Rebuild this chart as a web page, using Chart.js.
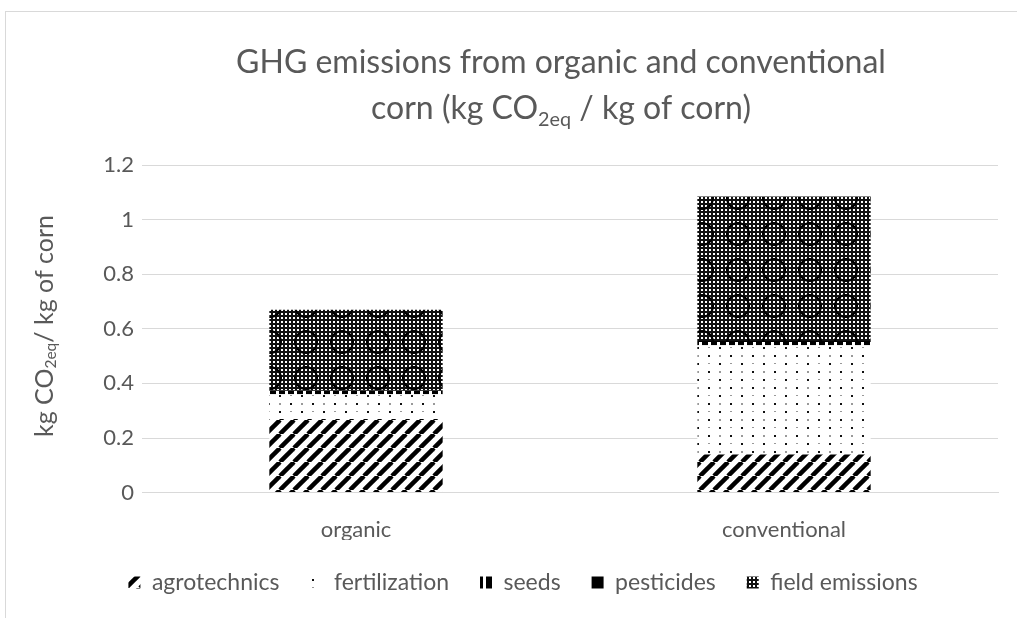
<!DOCTYPE html>
<html>
<head>
<meta charset="utf-8">
<script src="https://cdn.jsdelivr.net/npm/chart.js@4.4.1/dist/chart.umd.min.js"></script>
<style>
  body { margin: 0; background: #fff; }
  #wrap { width: 1017px; height: 618px; }
</style>
</head>
<body>
<div id="wrap"><canvas id="ghgChart" width="1017" height="618"></canvas></div>
<script>
// data
const categories = ['organic', 'conventional'];
const seriesNames = ['agrotechnics', 'fertilization', 'seeds', 'pesticides', 'field emissions'];
const agrotechnics = [0.27, 0.14];
const fertilization = [0.09, 0.40];
const seeds = [0.012, 0.012];
const pesticides = [0.003, 0.003];
const fieldEmissions = [0.295, 0.53];
const yTicks = [0, 0.2, 0.4, 0.6, 0.8, 1, 1.2];

const GREY = '#595959';
const FONT = 'Lato, "Open Sans", sans-serif';

const canvasEl = document.getElementById('ghgChart');
const ctx = canvasEl.getContext('2d');

// === PATTERNS ===
function makePattern(w, h, draw) {
  const c = document.createElement('canvas');
  c.width = w; c.height = h;
  const g = c.getContext('2d');
  g.fillStyle = '#fff';
  g.fillRect(0, 0, w, h);
  draw(g, w, h);
  return ctx.createPattern(c, 'repeat');
}

const patAgro = makePattern(14, 14, (g, w, h) => {
  g.strokeStyle = '#000';
  g.lineWidth = 4.5;
  for (let k = -1; k <= 1; k++) {
    g.beginPath();
    g.moveTo(k * w, h);
    g.lineTo(k * w + w, 0);
    g.stroke();
  }
});

const patFert = makePattern(22, 16, (g) => {
  g.fillStyle = '#111';
  g.fillRect(4, 3, 2, 2);
  g.fillRect(15, 11, 2, 2);
  g.fillStyle = '#999';
  g.fillRect(15, 3, 2, 2);
  g.fillRect(4, 11, 2, 1);
});

const patSeeds = makePattern(9, 1, (g) => {
  g.fillStyle = '#000';
  g.fillRect(0, 0, 6, 1);
});

const patField = makePattern(36, 36, (g, w, h) => {
  g.fillStyle = '#111';
  g.fillRect(0, 0, w, h);
  g.fillStyle = '#fff';
  for (let x = 0; x < w; x += 4) {
    for (let y = 0; y < h; y += 4) {
      g.fillRect(x + 1, y + 1, 2, 2);
    }
  }
  g.strokeStyle = '#000';
  g.lineWidth = 2;
  g.beginPath();
  g.arc(18, 18, 11, 0, Math.PI * 2);
  g.stroke();
});

const fills = [patAgro, patFert, patSeeds, '#000', patField];
const values = [agrotechnics, fertilization, seeds, pesticides, fieldEmissions];

// === TITLE, Y LABEL AND FRAME (drawn with subscripts) ===
function drawSubText(g, parts, size) {
  // parts: [text, isSub]
  let total = 0;
  parts.forEach(p => {
    g.font = (p[1] ? size * 0.62 : size) + 'px ' + FONT;
    total += g.measureText(p[0]).width;
  });
  let x = -total / 2;
  parts.forEach(p => {
    g.font = (p[1] ? size * 0.62 : size) + 'px ' + FONT;
    g.fillText(p[0], x, p[1] ? size * 0.22 : 0);
    x += g.measureText(p[0]).width;
  });
}

const decorPlugin = {
  id: 'decor',
  beforeDraw(chart) {
    const g = chart.ctx;
    g.save();
    g.strokeStyle = '#d9d9d9';
    g.lineWidth = 1;
    g.strokeRect(5.5, 11.5, 1100, 700);
    g.restore();
  },
  afterDraw(chart) {
    const g = chart.ctx;
    g.save();
    g.fillStyle = GREY;
    g.textBaseline = 'alphabetic';
    g.translate(561, 73);
    drawSubText(g, [['GHG emissions from organic and conventional', false]], 32);
    g.translate(0, 46);
    drawSubText(g, [['corn (kg CO', false], ['2eq', true], [' / kg of corn)', false]], 32);
    g.restore();

    g.save();
    g.fillStyle = GREY;
    g.translate(45, 326);
    g.rotate(-Math.PI / 2);
    drawSubText(g, [['kg CO', false], ['2eq', true], ['/ kg of corn', false]], 25);
    g.restore();
  }
};

new Chart(ctx, {
  type: 'bar',
  data: {
    labels: categories,
    datasets: seriesNames.map((name, i) => ({
      label: name,
      data: values[i],
      backgroundColor: fills[i],
      borderWidth: 0,
      categoryPercentage: 1,
      barPercentage: 0.405
    }))
  },
  options: {
    responsive: false,
    animation: false,
    devicePixelRatio: 1,
    layout: { padding: { top: 165, right: 19, left: 48, bottom: 14 } },
    scales: {
      x: {
        stacked: true,
        afterFit(scale) { scale.height = scale.height - 19; },
        grid: { display: false },
        border: { color: '#d9d9d9' },
        ticks: { color: GREY, font: { family: FONT, size: 22 }, padding: 16 }
      },
      y: {
        stacked: true,
        min: 0,
        max: 1.2,
        afterFit(scale) { scale.width = 94; },
        afterBuildTicks(scale) { scale.ticks = yTicks.map(v => ({ value: v })); },
        grid: { color: '#d9d9d9', drawTicks: false },
        border: { display: false },
        ticks: {
          color: GREY,
          font: { family: FONT, size: 22 },
          padding: 8,
          callback: v => String(Number(v.toFixed(1)))
        }
      }
    },
    plugins: {
      title: { display: false },
      tooltip: { enabled: false },
      legend: {
        position: 'bottom',
        labels: {
          color: GREY,
          font: { family: FONT, size: 23 },
          boxWidth: 12,
          boxHeight: 12,
          padding: 31
        }
      }
    }
  },
  plugins: [decorPlugin]
});
</script>
</body>
</html>
